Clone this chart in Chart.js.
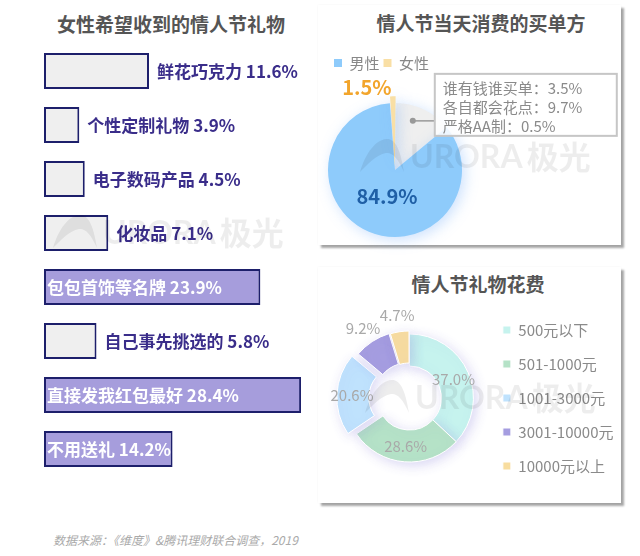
<!DOCTYPE html>
<html>
<head>
<meta charset="utf-8">
<script src="https://cdn.jsdelivr.net/npm/chart.js@4.4.1/dist/chart.umd.min.js"></script>
<style>
  body { margin: 0; background: #fff; width: 640px; height: 556px; position: relative; overflow: hidden;
         font-family: "Noto Sans CJK SC", "Noto Sans", sans-serif; }
  .title { position: absolute; font-size: 19px; font-weight: bold; color: #555; transform: translate(-50%, -50%); white-space: nowrap; }
  .card { position: absolute; background: #fff; box-shadow: 3px 3px 2px rgba(0,0,0,0.35), 0 0 2px rgba(0,0,0,0.05); }
  .box { position: absolute; }
  .wm { position: absolute; color: rgba(0,0,0,0.07); font: bold 32px Lato, "Noto Sans CJK SC", sans-serif;
        white-space: nowrap; pointer-events: none; display: flex; align-items: center; transform: translateY(-50%); }
  .wm svg { margin-right: 6px; }
  .source { position: absolute; left: 53px; top: 531px; font-size: 12px; font-style: italic; color: #aaa; }
</style>
</head>
<body>

<div class="card" style="left:318px;top:5px;width:303px;height:240px"></div>
<div class="card" style="left:318px;top:267px;width:303px;height:236px"></div>

<div class="title" style="left:171px;top:23px">女性希望收到的情人节礼物</div>
<div class="title" style="left:481px;top:22px">情人节当天消费的买单方</div>
<div class="title" style="left:478px;top:283px">情人节礼物花费</div>

<div class="box" style="left:0;top:44px;width:320px;height:432px"><canvas id="giftChart"></canvas></div>
<div class="box" style="left:318px;top:40px;width:303px;height:225px"><canvas id="payerChart"></canvas></div>
<div class="box" style="left:318px;top:300px;width:310px;height:200px"><canvas id="spendChart"></canvas></div>

<div class="source">数据来源：《维度》&amp;腾讯理财联合调查，2019</div>

<script>
// left: gifts women want
const giftLabels = ['鲜花巧克力', '个性定制礼物', '电子数码产品', '化妆品', '包包首饰等名牌', '自己事先挑选的', '直接发我红包最好', '不用送礼'];
const giftValues = [11.6, 3.9, 4.5, 7.1, 23.9, 5.8, 28.4, 14.2];

// top right: who pays
const payerLabels = ['其他', '男性', '女性'];
const payerValues = [13.7, 84.9, 1.5];
const splitLabels = ['谁有钱谁买单', '各自都会花点', '严格AA制'];
const splitValues = [3.5, 9.7, 0.5];

// bottom right: gift spend
const spendLabels = ['500元以下', '501-1000元', '1001-3000元', '3001-10000元', '10000元以上'];
const spendValues = [37.0, 28.6, 20.6, 9.2, 4.7];

const FONT = '"Noto Sans CJK SC", "Noto Sans", sans-serif';
const pct = v => v.toFixed(1) + '%';

// text on / next to the bars
const barLabels = {
  id: 'barLabels',
  afterDatasetsDraw(chart) {
    const ctx = chart.ctx;
    ctx.save();
    ctx.font = 'bold 17px ' + FONT;
    ctx.textBaseline = 'middle';
    ctx.textAlign = 'left';
    chart.getDatasetMeta(0).data.forEach((bar, i) => {
      const v = giftValues[i];
      const txt = giftLabels[i] + ' ' + pct(v);
      if (v > 14) {
        ctx.fillStyle = '#fff';
        ctx.fillText(txt, bar.base + 3, bar.y + 1);
      } else {
        ctx.fillStyle = '#3a2d8a';
        ctx.fillText(txt, bar.x + 8, bar.y + 1);
      }
    });
    ctx.restore();
  }
};

new Chart(document.getElementById('giftChart'), {
  type: 'bar',
  data: {
    labels: giftLabels,
    datasets: [{
      data: giftValues,
      backgroundColor: giftValues.map(v => v > 14 ? '#a69ddc' : '#efefef'),
      borderColor: '#1d1f6b',
      borderWidth: 2,
      borderSkipped: false,
      barPercentage: 0.67,
      categoryPercentage: 1
    }]
  },
  options: {
    indexAxis: 'y',
    responsive: true,
    maintainAspectRatio: false,
    animation: false,
    layout: { padding: { left: 44, right: 18, top: 0, bottom: 0 } },
    scales: { x: { display: false, min: 0, max: 28.5 }, y: { display: false } },
    plugins: { legend: { display: false }, tooltip: { enabled: false } }
  },
  plugins: [barLabels]
});

// soft glow under the round charts
function glow(color, blur) {
  return {
    id: 'glow',
    beforeDatasetsDraw(chart) {
      const ctx = chart.ctx;
      ctx.save();
      ctx.shadowColor = color;
      ctx.shadowBlur = blur;
      ctx.shadowOffsetX = 3;
      ctx.shadowOffsetY = 3;
    },
    afterDatasetsDraw(chart) { chart.ctx.restore(); }
  };
}

// how far an arc is pushed out by its offset option
function arcShift(arc) {
  const off = arc.options.offset || 0;
  const circ = arc.endAngle - arc.startAngle;
  return off / 4 + off * (1 - Math.sin(Math.min(Math.PI, circ)));
}

const payerDecor = {
  id: 'payerDecor',
  afterDatasetsDraw(chart) {
    const ctx = chart.ctx;
    const arcs = chart.getDatasetMeta(0).data;
    ctx.save();
    ctx.textBaseline = 'middle';

    // men, inside
    const m = arcs[1];
    let mid = (m.startAngle + m.endAngle) / 2;
    ctx.font = 'bold 20px ' + FONT;
    ctx.fillStyle = '#1f5fa6';
    ctx.textAlign = 'center';
    ctx.fillText(pct(payerValues[1]), m.x + Math.cos(mid) * m.outerRadius * 0.42 + 3, m.y + Math.sin(mid) * m.outerRadius * 0.42);

    // women, left of the tip
    const w = arcs[2];
    mid = (w.startAngle + w.endAngle) / 2;
    const tipR = w.outerRadius + arcShift(w);
    ctx.fillStyle = '#f2a52c';
    ctx.textAlign = 'right';
    ctx.fillText(pct(payerValues[2]), w.x + Math.cos(mid) * tipR - 1, w.y + Math.sin(mid) * tipR + 1);

    // callout for the grey part
    const g = arcs[0];
    mid = (g.startAngle + g.endAngle) / 2 - 0.1;
    const dx = g.x + Math.cos(mid) * g.outerRadius * 0.78;
    const dy = g.y + Math.sin(mid) * g.outerRadius * 0.78;
    const bx = dx + 22, by = dy - 47, bw = 182, bh = 62;
    ctx.strokeStyle = '#999';
    ctx.lineWidth = 1.5;
    ctx.beginPath(); ctx.moveTo(dx, dy); ctx.lineTo(bx, dy); ctx.stroke();
    ctx.fillStyle = '#999';
    ctx.beginPath(); ctx.arc(dx, dy, 3, 0, Math.PI * 2); ctx.fill();
    ctx.fillStyle = 'rgba(255,255,255,0.85)';
    ctx.fillRect(bx, by, bw, bh);
    ctx.strokeStyle = '#c6c6c6';
    ctx.lineWidth = 2;
    ctx.strokeRect(bx, by, bw, bh);
    ctx.font = '15px ' + FONT;
    ctx.fillStyle = '#8a8a8a';
    ctx.textAlign = 'left';
    splitLabels.forEach((lab, i) => {
      ctx.fillText(lab + '：' + pct(splitValues[i]), bx + 8, by + 14 + i * 19);
    });
    ctx.restore();
  }
};

new Chart(document.getElementById('payerChart'), {
  type: 'pie',
  data: {
    labels: payerLabels,
    datasets: [{
      data: payerValues,
      backgroundColor: ['#efefef', '#8ecbfb', '#f9dfa5'],
      borderWidth: 0,
      offset: [0, 0, 14],
      clip: false
    }]
  },
  options: {
    responsive: true,
    maintainAspectRatio: false,
    animation: false,
    radius: 67,
    rotation: 1,
    layout: { padding: { left: 12, right: 161, top: 11.5, bottom: 5.5 } },
    plugins: {
      tooltip: { enabled: false },
      legend: {
        position: 'top',
        align: 'start',
        labels: {
          filter: item => item.index > 0,
          boxWidth: 8, boxHeight: 8, padding: 4,
          color: '#888',
          font: { size: 15, family: FONT }
        }
      }
    }
  },
  plugins: [glow('rgba(110,170,250,0.35)', 14), payerDecor]
});

const spendLabelsPlugin = {
  id: 'spendLabels',
  afterDatasetsDraw(chart) {
    const ctx = chart.ctx;
    ctx.save();
    ctx.font = '15px ' + FONT;
    ctx.fillStyle = '#a9a9a9';
    ctx.textAlign = 'center';
    ctx.textBaseline = 'middle';
    chart.getDatasetMeta(0).data.forEach((arc, i) => {
      const mid = (arc.startAngle + arc.endAngle) / 2;
      const shift = arcShift(arc);
      const r = spendValues[i] < 10 ? arc.outerRadius + shift + 13 : (arc.innerRadius + arc.outerRadius) / 2 + shift;
      ctx.fillText(pct(spendValues[i]), arc.x + Math.cos(mid) * r, arc.y + Math.sin(mid) * r);
    });
    ctx.restore();
  }
};

new Chart(document.getElementById('spendChart'), {
  type: 'doughnut',
  data: {
    labels: spendLabels,
    datasets: [{
      data: spendValues,
      backgroundColor: ['#c6f3ee', '#b5e2c7', '#bfe2fd', '#a59de0', '#f8dd9f'],
      borderColor: '#fff',
      borderWidth: 1,
      offset: [0, 0, 33, 10, 7],
      clip: false
    }]
  },
  options: {
    responsive: true,
    maintainAspectRatio: false,
    animation: false,
    radius: 64,
    cutout: '50%',
    layout: { padding: { left: 17, right: 4.5, top: 0, bottom: 4 } },
    plugins: {
      tooltip: { enabled: false },
      legend: {
        position: 'right',
        labels: {
          boxWidth: 8, boxHeight: 8, padding: 19,
          color: '#8a8a8a',
          font: { size: 15, family: FONT }
        }
      }
    }
  },
  plugins: [glow('rgba(140,130,220,0.3)', 12), spendLabelsPlugin]
});

// faint brand watermarks over the charts
const logo = '<svg width="44" height="34" viewBox="0 0 44 34"><path d="M0 34 C6 14 16 2 26 1 C34 0 40 8 44 34 C38 20 32 14 26 15 C16 17 8 26 0 34 Z" fill="rgba(0,0,0,0.07)"/></svg>';
[[53, 231], [360, 155], [365, 396]].forEach(([x, y]) => {
  const d = document.createElement('div');
  d.className = 'wm';
  d.style.left = x + 'px';
  d.style.top = y + 'px';
  d.innerHTML = logo + '<span>URORA</span><span style="margin-left:4px">极光</span>';
  document.body.appendChild(d);
});
</script>
</body>
</html>
